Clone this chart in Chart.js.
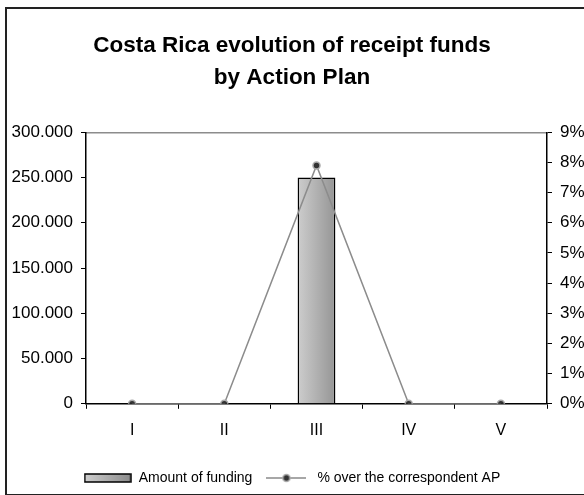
<!DOCTYPE html>
<html lang="en">
<head>
    <meta charset="UTF-8">
    <title>Costa Rica evolution of receipt funds</title>
    <script src="https://cdn.jsdelivr.net/npm/chart.js"></script>
    <style>
        html, body { margin: 0; padding: 0; background: #fff; overflow: hidden; }
        #wrap { position: relative; width: 584px; height: 495px; }
        #frame {
            position: absolute; left: 5px; top: 7px; width: 620px; height: 485px;
            border: 2px solid #222; pointer-events: none;
        }
    </style>
</head>
<body>
    <div id="wrap">
        <canvas id="chart" width="584" height="495"></canvas>
        <div id="frame"></div>
    </div>

    <script>
        // data
        const plans = ['I', 'II', 'III', 'IV', 'V'];
        const funding = [0, 0, 250000, 0, 0];
        const percentOverAP = [0, 0, 7.9, 0, 0];
        const fundingTicks = [0, 50000, 100000, 150000, 200000, 250000, 300000];
        const percentTicks = [0, 1, 2, 3, 4, 5, 6, 7, 8, 9];

        const FONT = '"Liberation Sans", Arial, sans-serif';

        function thousands(v) {
            return String(v).replace(/\B(?=(\d{3})+(?!\d))/g, '.');
        }

        // small icons for the legend
        function barIcon() {
            const c = document.createElement('canvas');
            c.width = 48; c.height = 10;
            const g = c.getContext('2d');
            const grad = g.createLinearGradient(0, 0, 48, 0);
            grad.addColorStop(0, '#d0d0d0');
            grad.addColorStop(1, '#8a8a8a');
            g.fillStyle = grad;
            g.fillRect(1, 1, 46, 8);
            g.strokeStyle = '#000';
            g.lineWidth = 1.5;
            g.strokeRect(1, 1, 46, 8);
            return c;
        }

        function lineIcon() {
            const c = document.createElement('canvas');
            c.width = 40; c.height = 10;
            const g = c.getContext('2d');
            g.strokeStyle = '#8a8a8a';
            g.lineWidth = 1.5;
            g.beginPath(); g.moveTo(0, 5); g.lineTo(40, 5); g.stroke();
            g.fillStyle = '#333';
            g.strokeStyle = '#aaa';
            g.beginPath(); g.arc(20, 5, 3.5, 0, Math.PI * 2); g.fill(); g.stroke();
            return c;
        }

        const icons = [barIcon(), lineIcon()];
        const defaultLabels = Chart.defaults.plugins.legend.labels.generateLabels;

        const chart = new Chart(document.getElementById('chart'), {
            type: 'bar',
            data: {
                labels: plans,
                datasets: [{
                    label: 'Amount of funding',
                    data: funding,
                    yAxisID: 'y',
                    order: 1,
                    categoryPercentage: 1,
                    barPercentage: 0.41,
                    borderColor: '#000',
                    borderWidth: 1.5,
                    backgroundColor: (c) => {
                        const xs = c.chart.scales.x;
                        if (!xs || c.type !== 'data' || !c.chart.chartArea) return '#b0b0b0';
                        const cx = xs.getPixelForValue(c.dataIndex);
                        if (!Number.isFinite(cx)) return '#b0b0b0';
                        const grad = c.chart.ctx.createLinearGradient(cx - 19, 0, cx + 19, 0);
                        grad.addColorStop(0, '#cdcdcd');
                        grad.addColorStop(1, '#959595');
                        return grad;
                    }
                }, {
                    type: 'line',
                    label: '% over the correspondent AP',
                    data: percentOverAP,
                    yAxisID: 'y1',
                    order: 0,
                    borderColor: '#8c8c8c',
                    borderWidth: 1.5,
                    pointRadius: 3.5,
                    pointBackgroundColor: '#333',
                    pointBorderColor: '#aaa',
                    pointBorderWidth: 1.5,
                    tension: 0
                }]
            },
            options: {
                responsive: false,
                animation: false,
                layout: { padding: { top: 7, bottom: 0, left: 0, right: 0 } },
                plugins: {
                    title: {
                        display: true,
                        text: ['Costa Rica evolution of receipt funds', 'by Action Plan'],
                        color: '#000',
                        font: { family: FONT, size: 22.5, weight: 'bold', lineHeight: 1.45 },
                        padding: { top: 22, bottom: 38 }
                    },
                    legend: {
                        position: 'bottom',
                        labels: {
                            usePointStyle: true,
                            pointStyleWidth: 48,
                            color: '#000',
                            padding: 10,
                            font: { family: FONT, size: 14 },
                            sort: (a, b) => a.datasetIndex - b.datasetIndex,
                            generateLabels: (chart) => {
                                const items = defaultLabels(chart);
                                items.forEach(it => { it.pointStyle = icons[it.datasetIndex]; });
                                return items;
                            }
                        }
                    },
                    tooltip: { enabled: false }
                },
                scales: {
                    x: {
                        offset: true,
                        afterFit: (s) => { s.height += 9; },
                        grid: { offset: true, drawOnChartArea: false, color: '#000', tickLength: 5 },
                        border: { color: '#000', width: 1.5 },
                        ticks: { color: '#000', padding: 12, font: { family: FONT, size: 16 } }
                    },
                    xTop: {
                        position: 'top',
                        labels: plans,
                        grid: { display: false, drawTicks: false },
                        border: { color: '#8c8c8c', width: 1.5 },
                        ticks: { display: false }
                    },
                    y: {
                        position: 'left',
                        min: 0,
                        max: 300000,
                        afterFit: (s) => { s.width = 86; },
                        afterBuildTicks: (s) => { s.ticks = fundingTicks.map(v => ({ value: v })); },
                        grid: { drawOnChartArea: false, color: '#000', tickLength: 5 },
                        border: { color: '#000', width: 1.5 },
                        ticks: {
                            color: '#000',
                            padding: 8,
                            font: { family: FONT, size: 17 },
                            callback: (v) => thousands(v)
                        }
                    },
                    y1: {
                        position: 'right',
                        min: 0,
                        max: 9,
                        afterFit: (s) => { s.width = 37; },
                        afterBuildTicks: (s) => { s.ticks = percentTicks.map(v => ({ value: v })); },
                        grid: { drawOnChartArea: false, color: '#000', tickLength: 5 },
                        border: { color: '#000', width: 1.5 },
                        ticks: {
                            color: '#000',
                            padding: 8,
                            font: { family: FONT, size: 17 },
                            callback: (v) => v + '%'
                        }
                    }
                }
            }
        });
        // re-run once so the bar gradient sees the laid-out scale
        chart.update();
    </script>
</body>
</html>
